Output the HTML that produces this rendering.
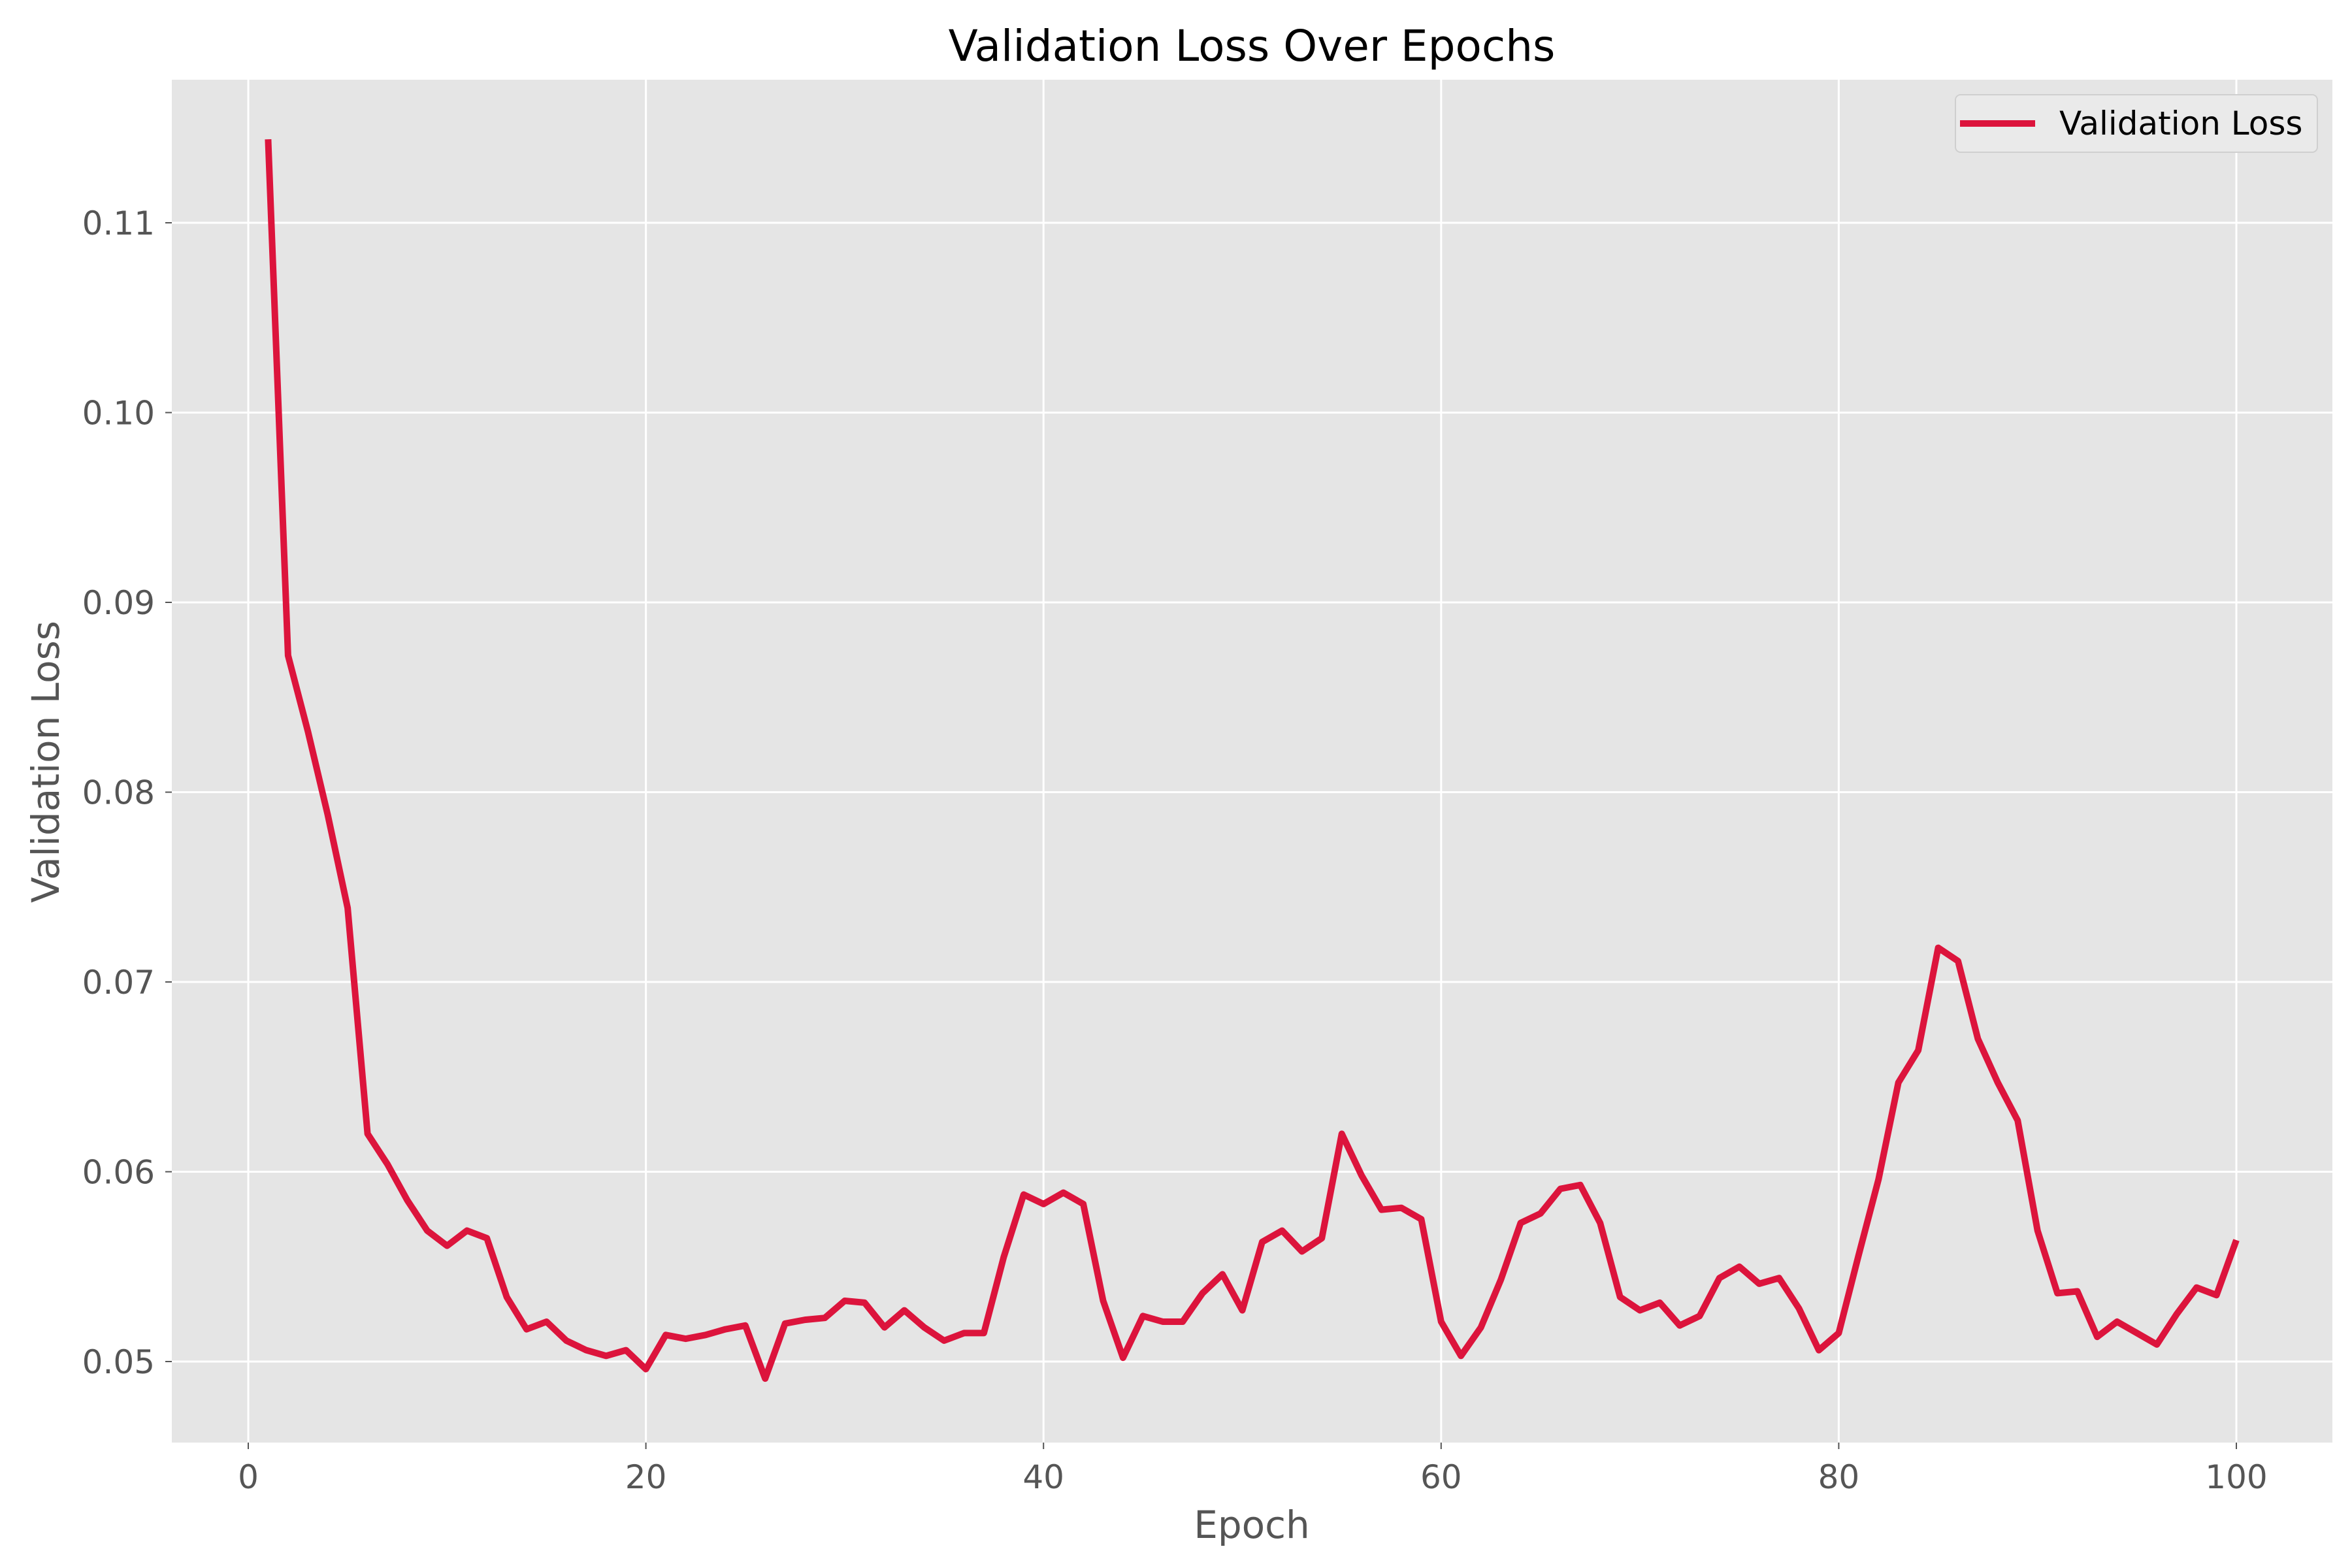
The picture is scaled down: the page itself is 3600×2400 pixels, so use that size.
<!DOCTYPE html>
<html><head><meta charset="utf-8"><style>
body{margin:0;background:#fff;}
svg{display:block;font-family:"DejaVu Sans","Liberation Sans",sans-serif;}
</style></head><body>
<svg id="chart" width="3600" height="2400" viewBox="0 0 3600 2400">
<rect x="0" y="0" width="3600" height="2400" fill="#fff"/>
<rect x="263" y="122" width="3307" height="2086" fill="#e5e5e5"/>
<g id="grid"></g>
<g id="ticks"></g>
<polyline id="line" fill="none" stroke="#dc143c" stroke-width="10" stroke-linejoin="round"/>
<text x="1916" y="93" font-size="66" text-anchor="middle" fill="#000">Validation Loss Over Epochs</text>
<text x="1916" y="2354" font-size="58" text-anchor="middle" fill="#555">Epoch</text>
<text transform="translate(90,1166) rotate(-90)" font-size="58" text-anchor="middle" fill="#555">Validation Loss</text>
<g>
<rect x="2993" y="145" width="554" height="88" fill="#eaeaea" stroke="#cfcfcf" stroke-width="2" rx="8"/>
<line x1="3000" y1="189" x2="3115" y2="189" stroke="#dc143c" stroke-width="10"/>
<text x="3152" y="206" font-size="50" fill="#000">Validation Loss</text>
</g>
</svg>
<script>
const epochs = Array.from({length:100},(_,i)=>i+1);
const loss = [0.1144,0.0872,0.0832,0.0788,0.0739,0.0620,0.0604,0.0585,0.0569,0.0561,
0.0569,0.0565,0.0534,0.0517,0.0521,0.0511,0.0506,0.0503,0.0506,0.0496,
0.0514,0.0512,0.0514,0.0517,0.0519,0.0491,0.0520,0.0522,0.0523,0.0532,
0.0531,0.0518,0.0527,0.0518,0.0511,0.0515,0.0515,0.0555,0.0588,0.0583,
0.0589,0.0583,0.0532,0.0502,0.0524,0.0521,0.0521,0.0536,0.0546,0.0527,
0.0563,0.0569,0.0558,0.0565,0.0620,0.0598,0.0580,0.0581,0.0575,0.0521,
0.0503,0.0518,0.0543,0.0573,0.0578,0.0591,0.0593,0.0573,0.0534,0.0527,
0.0531,0.0519,0.0524,0.0544,0.0550,0.0541,0.0544,0.0528,0.0506,0.0515,
0.0556,0.0596,0.0647,0.0664,0.0718,0.0711,0.0670,0.0647,0.0627,0.0569,
0.0536,0.0537,0.0513,0.0521,0.0515,0.0509,0.0525,0.0539,0.0535,0.0564];
const xTicks = [0,20,40,60,80,100];
const yTicks = [0.05,0.06,0.07,0.08,0.09,0.10,0.11];
const yTickLabels = ["0.05","0.06","0.07","0.08","0.09","0.10","0.11"];

const NS="http://www.w3.org/2000/svg";
function xs(v){return 380+(v-0)*(3423-380)/100;}
function ys(v){return 2084-(v-0.05)*(2084-341)/0.06;}
const grid=document.getElementById('grid'), ticks=document.getElementById('ticks');
function mk(tag,attrs,parent){const e=document.createElementNS(NS,tag);for(const k in attrs)e.setAttribute(k,attrs[k]);parent.appendChild(e);return e;}
xTicks.forEach(t=>{
  const g=mk('line',{x1:xs(t),x2:xs(t),y1:122,y2:2208,stroke:'#fff','stroke-width':3},grid);
  
  
  const tk=mk('line',{x1:xs(t),x2:xs(t),y1:2208,y2:2218,stroke:'#555','stroke-width':2},ticks);
  
  
  const tx=mk('text',{x:xs(t),y:2278,'font-size':50,'text-anchor':'middle',fill:'#555'},ticks);
  tx.textContent=t;
  
  
});
yTicks.forEach((t,i)=>{
  const g=mk('line',{x1:263,x2:3570,y1:ys(t),y2:ys(t),stroke:'#fff','stroke-width':3},grid);
  
  
  const tk=mk('line',{x1:253,x2:263,y1:ys(t),y2:ys(t),stroke:'#555','stroke-width':2},ticks);
  
  
  const tx=mk('text',{x:237,y:ys(t)+18,'font-size':50,'text-anchor':'end',fill:'#555'},ticks);
  tx.textContent=yTickLabels[i];
  
  
});
document.getElementById('line').setAttribute('points',epochs.map((e,i)=>xs(e).toFixed(1)+','+ys(loss[i]).toFixed(1)).join(' '));
</script>
</body></html>
